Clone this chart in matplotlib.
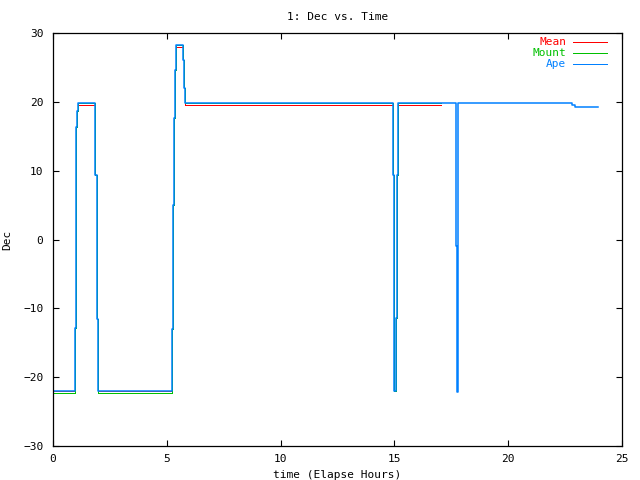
import matplotlib
matplotlib.use("Agg")
import matplotlib.pyplot as plt

# Ape series (elapsed hours, Dec in degrees)
ape_time = [0.0, 0.955, 0.99, 1.03, 1.07, 1.11, 1.85, 1.93, 1.98,
            5.24, 5.29, 5.33, 5.38, 5.42, 5.72, 5.76, 5.81,
            14.94, 14.98, 15.00, 15.08, 15.10, 15.17,
            17.69, 17.72, 17.75, 17.77, 17.80,
            22.82, 22.95, 23.93]
ape_dec = [-22.0, -12.8, 5.9, 16.3, 18.6, 19.8, 9.3, -11.6, -22.0,
           -13.0, 5.0, 17.6, 24.6, 28.2, 26.1, 22.0, 19.85,
           9.4, -11.45, -22.0, -11.45, 9.4, 19.85,
           9.4, -1.0, -11.45, -22.1, 19.85,
           19.58, 19.25, 19.25]

# Mean and Mount series stop near 17 h
mean_time = [0.0, 0.955, 0.99, 1.03, 1.07, 1.11, 1.85, 1.93, 1.98,
             5.24, 5.29, 5.33, 5.38, 5.42, 5.72, 5.76, 5.81,
             14.94, 14.98, 15.00, 15.08, 15.10, 15.17, 17.03]
mean_dec = [-22.0, -12.8, 5.9, 16.3, 18.6, 19.55, 9.3, -11.6, -22.0,
            -13.0, 5.0, 17.6, 24.6, 27.95, 26.1, 22.0, 19.6,
            9.4, -11.45, -22.0, -11.45, 9.4, 19.6, 19.6]
mount_dec = [-22.25, -12.8, 5.9, 16.3, 18.6, 19.8, 9.3, -11.6, -22.25,
             -13.0, 5.0, 17.6, 24.6, 28.2, 26.1, 22.0, 19.85,
             9.4, -11.45, -22.0, -11.45, 9.4, 19.85, 19.85]

SERIES = [
    ("Mean", mean_time, mean_dec, "#ff0000"),
    ("Mount", mean_time, mount_dec, "#00c000"),
    ("Ape", ape_time, ape_dec, "#0080ff"),
]
WIDTHS = {"Mean": 0.6, "Mount": 0.6, "Ape": 1.1}

FONT = "DejaVu Sans Mono"
FS = 8

fig = plt.figure(figsize=(6.4, 4.8), dpi=100)
ax = fig.add_axes([53 / 640, 34 / 480, 569 / 640, 413 / 480])

for label, t, v, color in SERIES:
    ax.plot(t, v, drawstyle="steps-post", color=color,
            linewidth=WIDTHS[label], antialiased=(label == "Ape"))

ax.set_xlim(0, 25)
ax.set_ylim(-30, 30)
ax.set_xticks(range(0, 26, 5))
ax.set_yticks(range(-30, 31, 10))
ax.tick_params(direction="in", top=True, right=True, length=4.5, width=0.8,
               labelsize=FS)
ax.tick_params(axis="y", pad=7)
ax.tick_params(axis="x", pad=6)
for lbl in ax.get_xticklabels() + ax.get_yticklabels():
    lbl.set_family(FONT)
for sp in ax.spines.values():
    sp.set_linewidth(0.9)

ax.set_title("1: Dec vs. Time", fontsize=FS, family=FONT, pad=9)
ax.set_xlabel("time (Elapse Hours)", fontsize=FS, family=FONT, labelpad=4)
ax.set_ylabel("Dec", fontsize=FS, family=FONT, labelpad=8)

# gnuplot-style key: right-aligned coloured text with line sample
key_y = [0.977, 0.951, 0.924]
for (label, _, _, color), y in zip(SERIES, key_y):
    ax.text(0.902, y, label, transform=ax.transAxes, ha="right", va="center",
            color=color, fontsize=FS, family=FONT)
    ax.plot([0.914, 0.974], [y, y], transform=ax.transAxes, color=color,
            linewidth=0.6, clip_on=False, antialiased=False)

fig.savefig("out.png", dpi=100)
